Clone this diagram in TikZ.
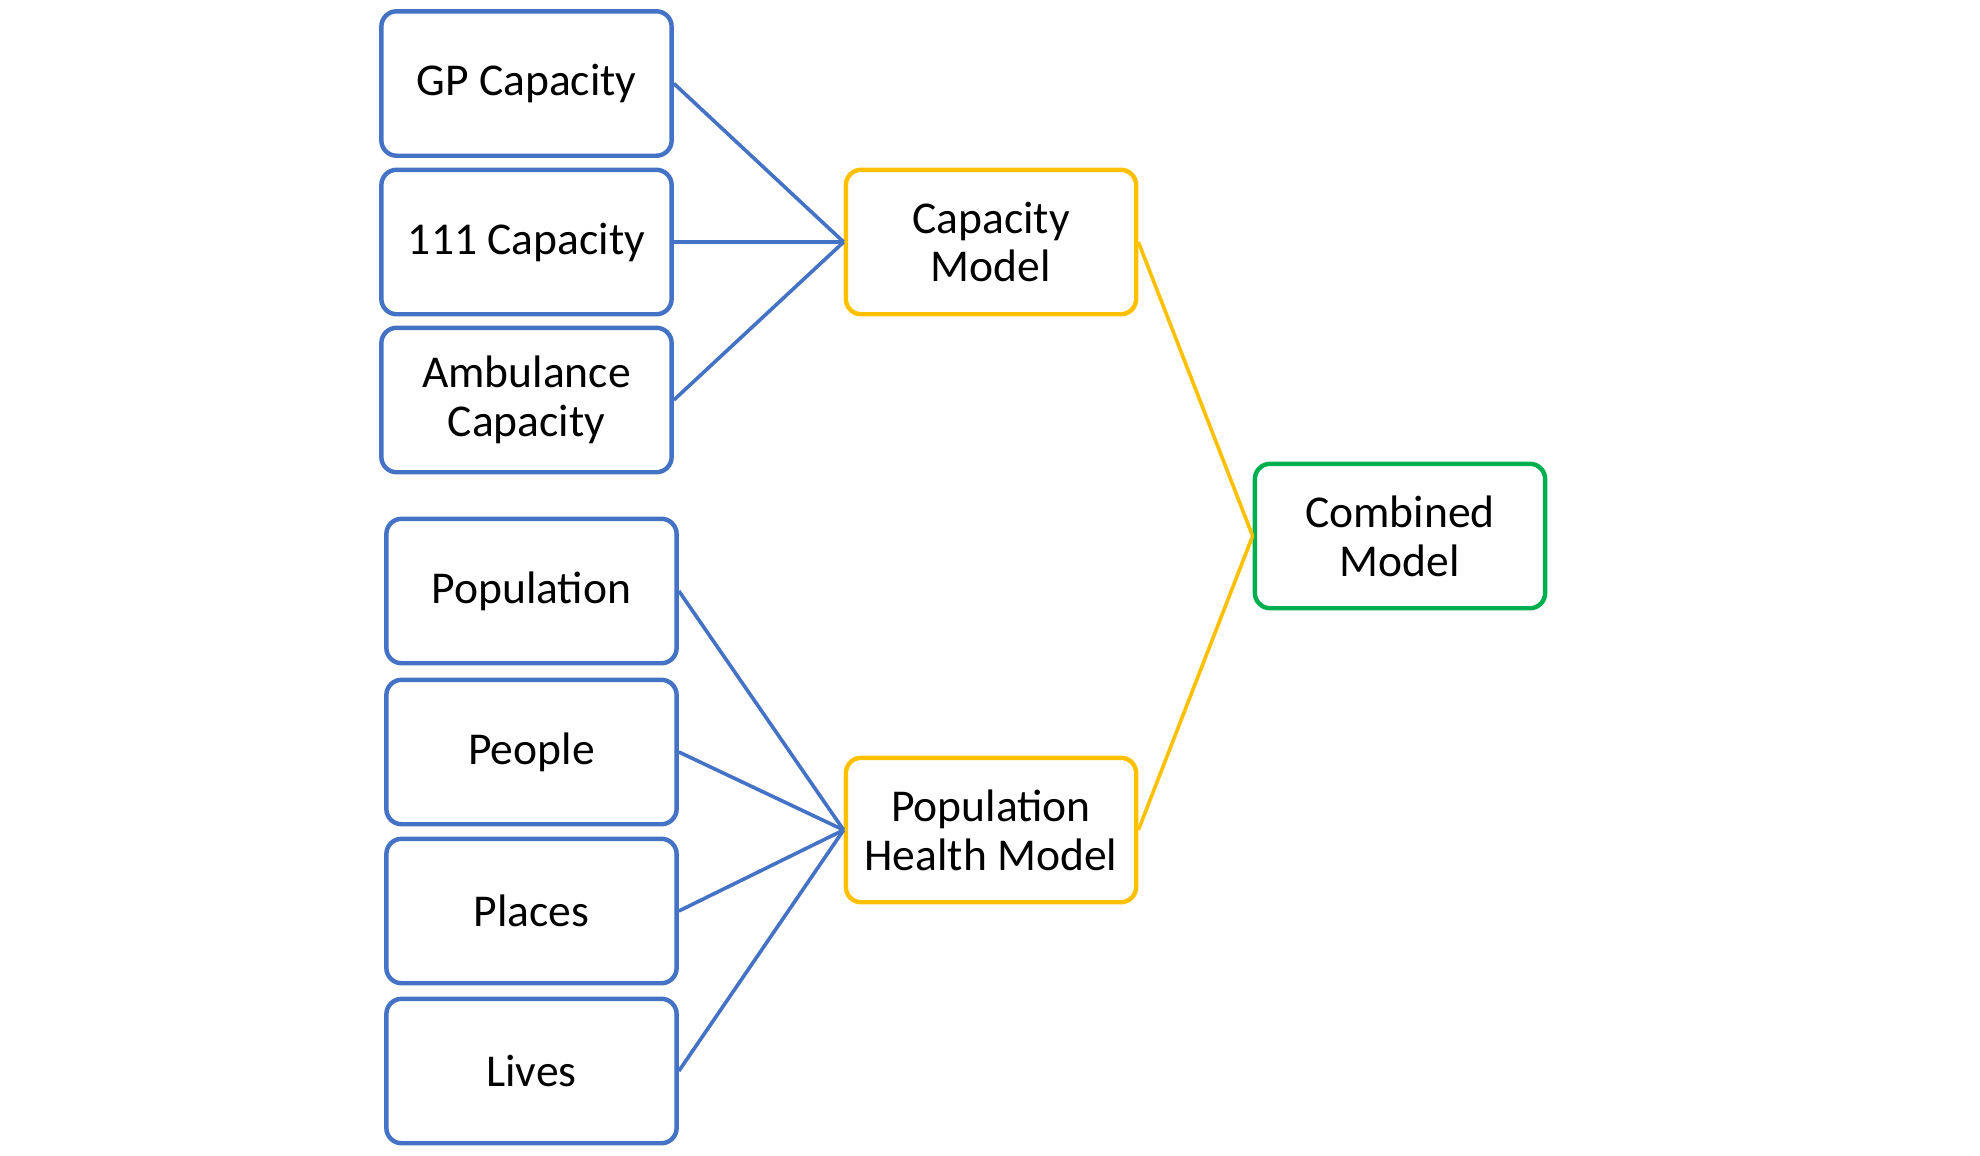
\documentclass[tikz,border=0pt]{standalone}
\usepackage{fontspec}
\setmainfont{Carlito}
\definecolor{cblue}{HTML}{4472C4}
\definecolor{cyellow}{HTML}{FFC000}
\definecolor{cgreen}{HTML}{00B050}
\begin{document}
\begin{tikzpicture}[x=0.36pt,y=-0.36pt,
  box/.style={draw, line width=1.6pt, rounded corners=5.5pt, minimum width=104.5pt, minimum height=52pt, inner sep=0pt, align=center, font=\fontsize{16.4}{17.6}\selectfont, fill=white},
  inbox/.style={box, draw=cblue},
  modbox/.style={box, draw=cyellow},
  combox/.style={box, draw=cgreen},
  bline/.style={draw=cblue, line width=1.3pt},
  yline/.style={draw=cyellow, line width=1.3pt}]
\fill[white] (0,0) rectangle (1980,1155);
\node[inbox] (gp) at (526.5,83.5) {GP Capacity};
\node[inbox] (c111) at (526.5,242) {111 Capacity};
\node[inbox] (amb) at (526.5,400) {Ambulance\\Capacity};
\node[inbox] (pop) at (531.5,591) {Population};
\node[inbox] (ppl) at (531.5,752) {People};
\node[inbox] (plc) at (531.5,911) {Places};
\node[inbox] (liv) at (531.5,1071) {Lives};
\node[modbox] (cap) at (991,242) {Capacity\\Model};
\node[modbox] (phm) at (991,830) {Population\\Health Model};
\node[combox] (comb) at (1400,536) {Combined\\Model};
\draw[bline] (gp.east) -- (cap.west);
\draw[bline] (c111.east) -- (cap.west);
\draw[bline] (amb.east) -- (cap.west);
\draw[bline] (pop.east) -- (phm.west);
\draw[bline] (ppl.east) -- (phm.west);
\draw[bline] (plc.east) -- (phm.west);
\draw[bline] (liv.east) -- (phm.west);
\draw[yline] (cap.east) -- (comb.west);
\draw[yline] (phm.east) -- (comb.west);
\end{tikzpicture}
\end{document}
